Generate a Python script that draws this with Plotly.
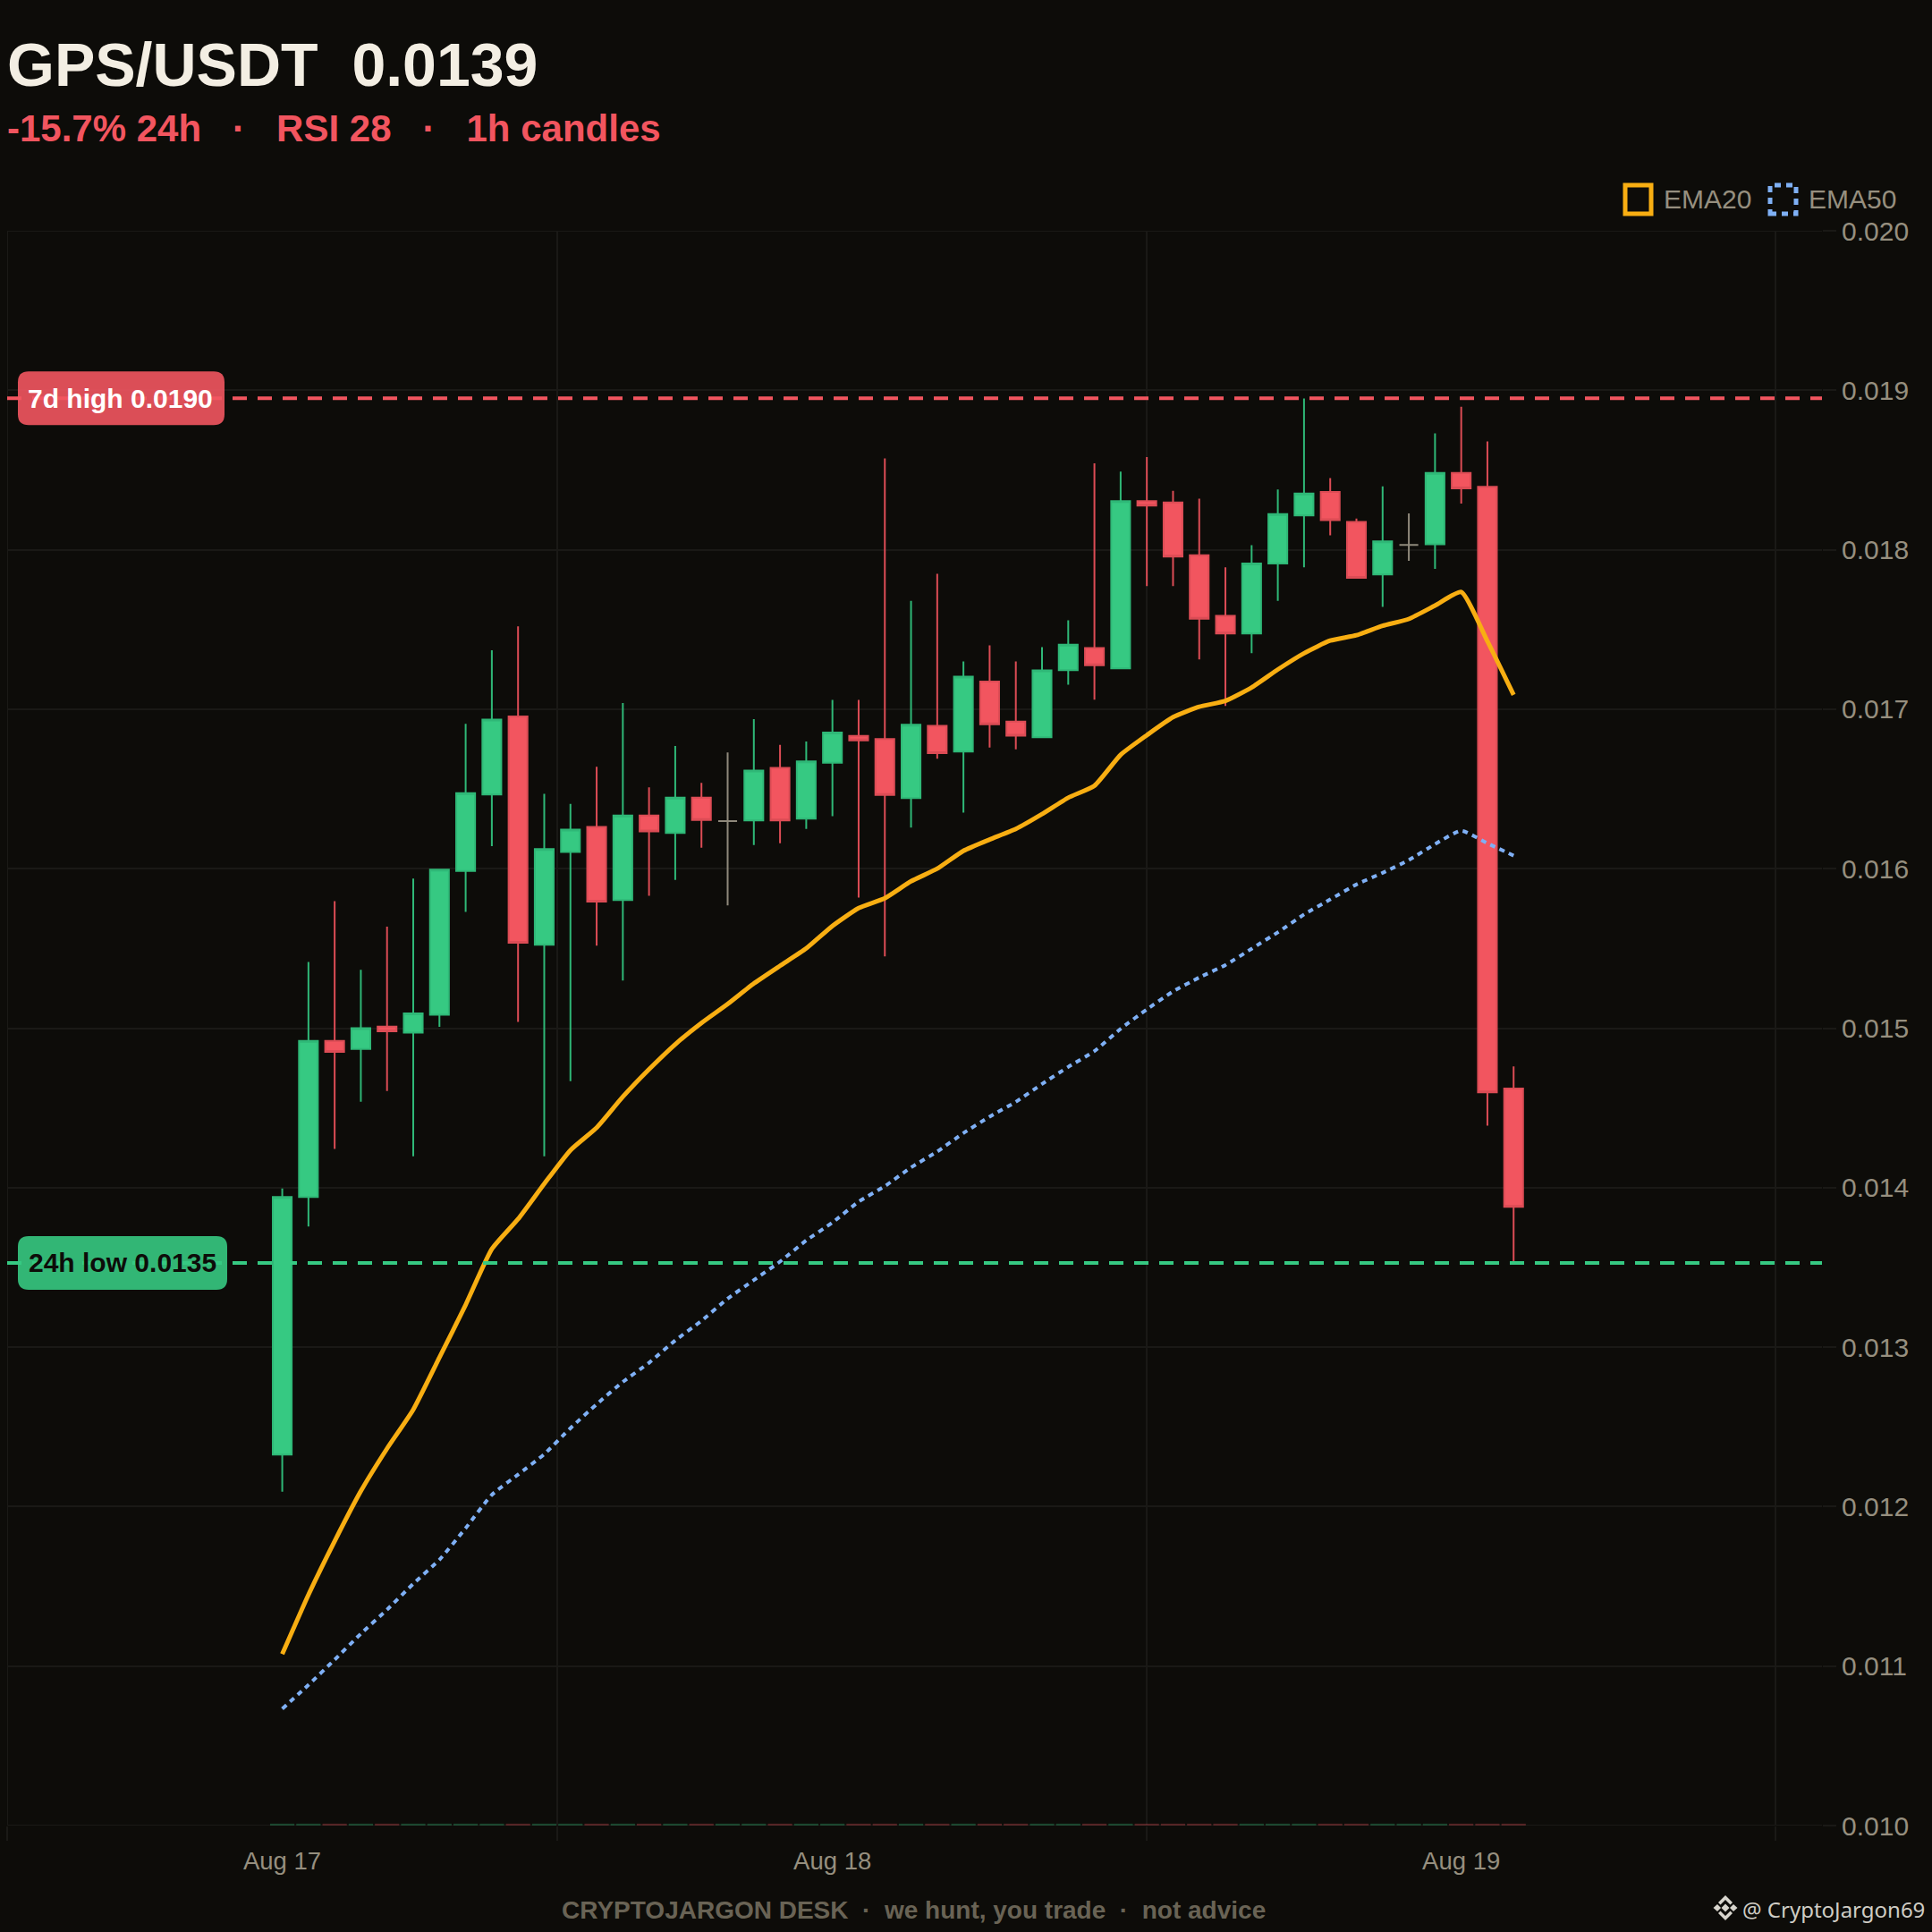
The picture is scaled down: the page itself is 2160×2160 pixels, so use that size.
import plotly.graph_objects as go

WIDTH = 2160
HEIGHT = 2160
PLOT_L, PLOT_R, PLOT_T, PLOT_B = 8, 2037, 258, 2041

BG = "#0d0c09"
GRID = "#1a1916"
TEXT_DIM = "#968f7f"
GREEN = "#36c982"
GREEN_LINE = "#2fb877"
RED = "#f2555f"
RED_LINE = "#dc4c55"
GREY = "#8f897b"
ORANGE = "#f8ae12"
BLUE = "#7fb0f5"
FONT = "Liberation Sans"

# hourly candles, index 0 = first candle on Aug 17
hours = list(range(48))
opens = [0.012326, 0.013941, 0.014920, 0.014870, 0.015010, 0.014972, 0.015084, 0.015985,
         0.016465, 0.016955, 0.015523, 0.016105, 0.016262, 0.015804, 0.016333, 0.016224,
         0.016445, 0.016299, 0.016303, 0.016632, 0.016314, 0.016665, 0.016832, 0.016813,
         0.016443, 0.016895, 0.016735, 0.017174, 0.016923, 0.016824, 0.017245, 0.017383,
         0.017256, 0.018305, 0.018297, 0.017966, 0.017585, 0.017475, 0.017914, 0.018215,
         0.018363, 0.018174, 0.017845, 0.018030, 0.018034, 0.018482, 0.018394, 0.014621]
highs = [0.013995, 0.015415, 0.015796, 0.015366, 0.015637, 0.015938, 0.016000, 0.016908,
         0.017370, 0.017520, 0.016469, 0.016406, 0.016639, 0.017039, 0.016510, 0.016770,
         0.016538, 0.016729, 0.016938, 0.016776, 0.016798, 0.017058, 0.017058, 0.018572,
         0.017680, 0.017849, 0.017299, 0.017400, 0.017299, 0.017389, 0.017557, 0.018542,
         0.018490, 0.018581, 0.018370, 0.018320, 0.017890, 0.018028, 0.018378, 0.018948,
         0.018449, 0.018196, 0.018398, 0.018228, 0.018729, 0.018897, 0.018679, 0.014760]
lows = [0.012094, 0.013756, 0.014243, 0.014538, 0.014606, 0.014196, 0.015009, 0.015729,
        0.016142, 0.015039, 0.014196, 0.014667, 0.015518, 0.015299, 0.015830, 0.015930,
        0.016131, 0.015770, 0.016148, 0.016159, 0.016250, 0.016329, 0.015819, 0.015450,
        0.016258, 0.016690, 0.016351, 0.016759, 0.016748, 0.016819, 0.017153, 0.017060,
        0.017256, 0.017772, 0.017772, 0.017312, 0.017021, 0.017351, 0.017679, 0.017890,
        0.018090, 0.017824, 0.017641, 0.017931, 0.017880, 0.018290, 0.014389, 0.013539]
closes = [0.013941, 0.014920, 0.014852, 0.015000, 0.014980, 0.015092, 0.015994, 0.016473,
          0.016935, 0.015535, 0.016123, 0.016245, 0.015794, 0.016333, 0.016234, 0.016445,
          0.016305, 0.016299, 0.016615, 0.016303, 0.016673, 0.016854, 0.016804, 0.016462,
          0.016903, 0.016725, 0.017204, 0.016905, 0.016834, 0.017243, 0.017404, 0.017275,
          0.018305, 0.018277, 0.017957, 0.017568, 0.017475, 0.017914, 0.018224, 0.018353,
          0.018185, 0.017824, 0.018052, 0.018030, 0.018482, 0.018385, 0.014598, 0.013880]

ema20 = [0.011075, 0.011447, 0.011783, 0.012097, 0.012364, 0.012608, 0.012935, 0.013265,
         0.013615, 0.013803, 0.014024, 0.014235, 0.014376, 0.014570, 0.014742, 0.014899,
         0.015032, 0.015151, 0.015280, 0.015391, 0.015500, 0.015641, 0.015753, 0.015815,
         0.015921, 0.016000, 0.016112, 0.016183, 0.016249, 0.016342, 0.016445, 0.016520,
         0.016714, 0.016837, 0.016950, 0.017015, 0.017052, 0.017136, 0.017249, 0.017351,
         0.017430, 0.017464, 0.017523, 0.017566, 0.017650, 0.017735, 0.017426, 0.017090]
ema50 = [0.010732, 0.010882, 0.011040, 0.011203, 0.011354, 0.011516, 0.011667, 0.011865,
         0.012074, 0.012201, 0.012329, 0.012492, 0.012642, 0.012782, 0.012902, 0.013042,
         0.013165, 0.013304, 0.013420, 0.013536, 0.013669, 0.013781, 0.013912, 0.014009,
         0.014127, 0.014226, 0.014342, 0.014445, 0.014538, 0.014650, 0.014757, 0.014856,
         0.014996, 0.015118, 0.015230, 0.015318, 0.015396, 0.015498, 0.015601, 0.015713,
         0.015807, 0.015901, 0.015974, 0.016054, 0.016154, 0.016238, 0.016159, 0.016082]

# volume slivers along the floor of the chart
floor_price = 0.010
sliver_heights = [0.000012] * 48

high_7d = 0.01895
low_24h = 0.013528

y_ticks = [0.010, 0.011, 0.012, 0.013, 0.014, 0.015, 0.016, 0.017, 0.018, 0.019, 0.020]
date_ticks = [0, 21, 45]
date_labels = ["Aug 17", "Aug 18", "Aug 19"]
grid_ticks = [-10.5, 10.5, 33, 57]
x_range = [-10.5, 58.77]


def px(x):
    return (x - PLOT_L) / (PLOT_R - PLOT_L)


def py(y):
    return (PLOT_B - y) / (PLOT_B - PLOT_T)


def rounded(w, h, r):
    # rounded box in pixels, anchored on its left middle
    t, b = h / 2, -h / 2
    return (f"M{r},{b} L{w - r},{b} Q{w},{b} {w},{b + r} L{w},{t - r} Q{w},{t} {w - r},{t} "
            f"L{r},{t} Q0,{t} 0,{t - r} L0,{b + r} Q0,{b} {r},{b} Z")


def note(text, x, y, font, xanchor="center", yref="paper"):
    return dict(text=text, xref="paper", yref=yref, x=px(x), y=py(y) if yref == "paper" else y,
                xanchor=xanchor, yanchor="middle", showarrow=False, font=font)


def edge(**kw):
    # plotly drops the grid lines that sit on the plot edge, so draw those here
    return dict(type="line", line=dict(color=GRID, width=2), layer="below", **kw)


is_doji = [o == c for o, c in zip(opens, closes)]


def pick(values, want):
    return [v for v, d in zip(values, is_doji) if d == want]


fig = go.Figure()

fig.add_trace(go.Bar(
    x=hours, y=sliver_heights, base=floor_price, width=0.93,
    marker=dict(color=["rgba(54,201,130,0.3)" if c >= o else "rgba(242,85,96,0.3)"
                       for o, c in zip(opens, closes)], line=dict(width=0)),
    xaxis="x2", showlegend=False, hoverinfo="skip",
))

fig.add_trace(go.Candlestick(
    x=pick(hours, False), open=pick(opens, False), high=pick(highs, False),
    low=pick(lows, False), close=pick(closes, False),
    increasing=dict(fillcolor=GREEN, line=dict(color=GREEN_LINE, width=2)),
    decreasing=dict(fillcolor=RED, line=dict(color=RED_LINE, width=2)),
    showlegend=False,
))
fig.add_trace(go.Candlestick(
    x=pick(hours, True), open=pick(opens, True), high=pick(highs, True),
    low=pick(lows, True), close=pick(closes, True),
    increasing=dict(fillcolor=GREY, line=dict(color=GREY, width=2)),
    decreasing=dict(fillcolor=GREY, line=dict(color=GREY, width=2)),
    showlegend=False,
))

fig.add_trace(go.Scatter(x=hours, y=ema20, mode="lines", name="EMA20", showlegend=False,
                         line=dict(color=ORANGE, width=5, shape="spline", smoothing=0.5)))
fig.add_trace(go.Scatter(x=hours, y=ema50, mode="lines", name="EMA50", showlegend=False,
                         line=dict(color=BLUE, width=4, shape="spline", smoothing=0.5, dash="6px,5.5px")))

shapes = [
    edge(xref="x2", yref="paper", x0=grid_ticks[0], x1=grid_ticks[0], y0=0, y1=1),
    edge(xref="paper", yref="y", x0=0, x1=1, y0=y_ticks[0], y1=y_ticks[0]),
    edge(xref="paper", yref="y", x0=0, x1=1, y0=y_ticks[-1], y1=y_ticks[-1]),
    dict(type="line", xref="paper", yref="y", x0=0, x1=1, y0=high_7d, y1=high_7d,
         line=dict(color=RED, width=4, dash="16px,12px"), layer="above"),
    dict(type="line", xref="paper", yref="y", x0=0, x1=1, y0=low_24h, y1=low_24h,
         line=dict(color=GREEN, width=4, dash="16px,12px"), layer="above"),
    dict(type="path", xref="paper", yref="y", xsizemode="pixel", ysizemode="pixel",
         xanchor=px(20), yanchor=high_7d, path=rounded(231, 60, 12),
         fillcolor="rgba(242,85,96,0.9)", line=dict(width=0), layer="above"),
    dict(type="path", xref="paper", yref="y", xsizemode="pixel", ysizemode="pixel",
         xanchor=px(20), yanchor=low_24h, path=rounded(234, 60, 12),
         fillcolor="rgba(54,201,130,0.9)", line=dict(width=0), layer="above"),
    # legend icons
    dict(type="rect", xref="paper", yref="paper", x0=px(1817), x1=px(1846), y0=py(239), y1=py(207),
         line=dict(color=ORANGE, width=5)),
    dict(type="rect", xref="paper", yref="paper", x0=px(1979), x1=px(2008), y0=py(239), y1=py(207),
         line=dict(color=BLUE, width=5, dash="7px,6px")),
    # watermark logo
    dict(type="path", xref="paper", yref="paper", xsizemode="pixel", ysizemode="pixel",
         xanchor=px(1929), yanchor=py(2133),
         path=("M0,-4.5 L4.5,0 L0,4.5 L-4.5,0 Z M-9,-4 L-13.5,0 L-9,4 L-5,0 Z M9,-4 L13.5,0 L9,4 L5,0 Z "
               "M0,14 L-8,6 L-5.5,3.5 L0,9 L5.5,3.5 L8,6 Z M0,-14 L-8,-6 L-5.5,-3.5 L0,-9 L5.5,-3.5 L8,-6 Z"),
         fillcolor="#d8d5cd", line=dict(width=0)),
]

annotations = [
    note("-15.7% 24h\u00a0\u00a0\u00a0·\u00a0\u00a0\u00a0RSI 28\u00a0\u00a0\u00a0·\u00a0\u00a0\u00a01h candles",
         5.5, 143, dict(family=FONT, size=42, color=RED, weight="bold"), xanchor="left"),
    note("7d high 0.0190", 134.5, high_7d, dict(family=FONT, size=30, color="#ffffff", weight="bold"), yref="y"),
    note("24h low 0.0135", 136.5, low_24h, dict(family=FONT, size=30, color=BG, weight="bold"), yref="y"),
    note("EMA20", 1858, 222, dict(family=FONT, size=30, color=TEXT_DIM), xanchor="left"),
    note("EMA50", 2020, 222, dict(family=FONT, size=30, color=TEXT_DIM), xanchor="left"),
    note("CRYPTOJARGON DESK\u00a0\u00a0·\u00a0\u00a0we hunt, you trade\u00a0\u00a0·\u00a0\u00a0not advice",
         1021.5, 2135, dict(family=FONT, size=28, color="#696355", weight="bold")),
    note("@ CryptoJargon69", 1946, 2134, dict(family="Noto Sans", size=24, color="#cfccc4"), xanchor="left"),
]

fig.update_layout(
    width=WIDTH, height=HEIGHT, autosize=False,
    margin=dict(l=PLOT_L, r=WIDTH - PLOT_R, t=PLOT_T, b=HEIGHT - PLOT_B, pad=0),
    paper_bgcolor=BG, plot_bgcolor=BG,
    boxgap=0.28, boxgroupgap=0,
    title=dict(text="GPS/USDT\u00a0\u00a00.0139", x=8 / WIDTH,
               xanchor="left", y=1 - 72 / HEIGHT, yanchor="middle",
               font=dict(family=FONT, size=68, color="#f3eee3", weight="bold")),
    font=dict(family=FONT, color=TEXT_DIM),
    showlegend=False,
    dragmode=False,
    xaxis=dict(
        range=x_range, tickmode="array", tickvals=date_ticks, ticktext=date_labels,
        showgrid=False, zeroline=False, ticks="", tickfont=dict(size=27.5, color=TEXT_DIM),
        rangeslider=dict(visible=False), ticklabelstandoff=20,
    ),
    xaxis2=dict(
        range=x_range, overlaying="x", side="bottom", anchor="y", tickmode="array", tickvals=grid_ticks,
        showticklabels=False, showgrid=True, gridcolor=GRID, gridwidth=2, zeroline=False,
        ticks="outside", ticklen=16, tickwidth=2, tickcolor=GRID,
    ),
    yaxis=dict(
        range=[0.010, 0.020], side="right", tickmode="array", tickvals=y_ticks, tickformat=".3f",
        showgrid=True, gridcolor=GRID, gridwidth=2, zeroline=False,
        ticks="outside", ticklen=15, tickwidth=2, tickcolor=GRID,
        tickfont=dict(size=30, color=TEXT_DIM),
    ),
    shapes=shapes,
    annotations=annotations,
)

fig.write_html("out.html", config=dict(displayModeBar=False),
               post_script="document.body.style.margin='0';document.body.style.background='#0d0c09';")
